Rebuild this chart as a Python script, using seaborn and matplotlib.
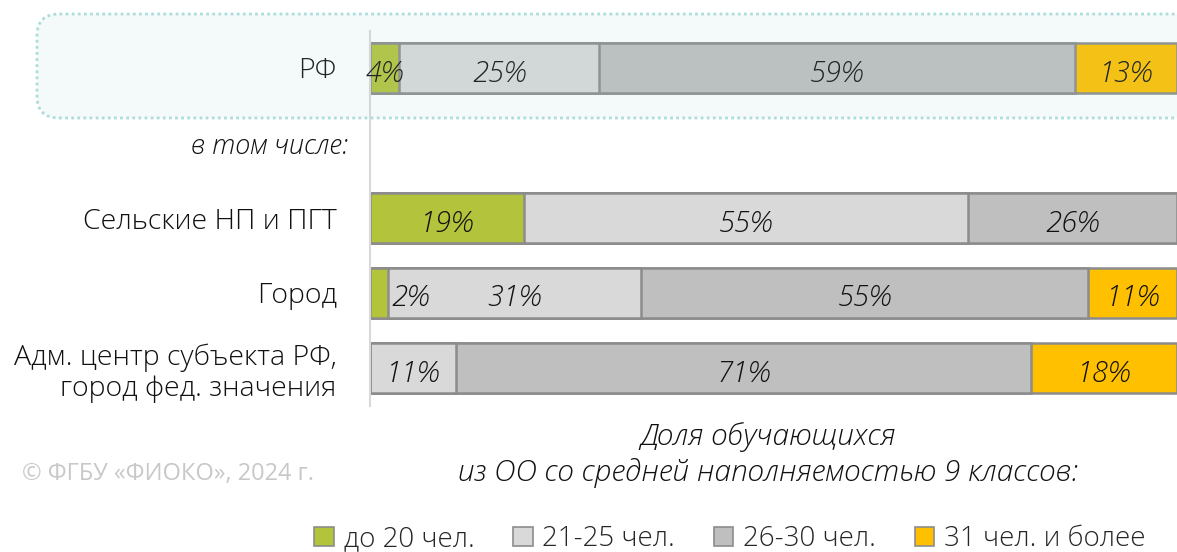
import matplotlib
matplotlib.use("Agg")
import matplotlib.pyplot as plt
import seaborn as sns
import pandas as pd
import numpy as np
from matplotlib.patches import FancyBboxPatch, Patch
from matplotlib.transforms import IdentityTransform

categories = ["РФ", "в том числе:", "Сельские НП и ПГТ", "Город",
              "Адм. центр субъекта РФ,\nгород фед. значения"]
groups = ["до 20 чел.", "21-25 чел.", "26-30 чел.", "31 чел. и более"]
rows = ["РФ", "Сельские НП и ПГТ", "Город", "Адм. центр субъекта РФ,\nгород фед. значения"]
v_upto20 = [3.6, 19.1, 2.2, 0.0]
v_21_25 = [24.8, 55.0, 31.4, 10.7]
v_26_30 = [59.0, 25.9, 55.4, 71.2]
v_31plus = [12.6, 0.0, 11.0, 18.1]
colors = ["#b3c33c", "#d9d9d9", "#bfbfbf", "#ffc000"]
xlabel_text = "Доля обучающихся\nиз ОО со средней наполняемостью 9 классов:"
copyright_text = "© ФГБУ «ФИОКО», 2024 г."

sns.set_style("white")
plt.rcParams["font.family"] = ["Open Sans", "DejaVu Sans"]

W, H = 1177, 552
fig = plt.figure(figsize=(W / 100, H / 100), dpi=100)
ax = fig.add_axes([370 / W, 1 - 405.5 / H, 807 / W, 375 / H])
ax.set_facecolor("none")

vals = np.array([v_upto20, v_21_25, v_26_30, v_31plus], dtype=float)
cums = np.cumsum(vals, axis=0)

# stacked bars: draw cumulative totals from the largest down
for i in reversed(range(len(groups))):
    df = pd.DataFrame({"cat": rows, "cum": cums[i]})
    sns.barplot(data=df, x="cum", y="cat", order=categories, orient="h",
                color=colors[i], saturation=1, edgecolor="#8c8c8c",
                linewidth=1.8, width=0.66, ax=ax, errorbar=None)

# value labels
ypos = {c: k for k, c in enumerate(categories)}
lab_kw = dict(va="center_baseline", fontsize=21, style="italic",
              color="#111111", fontweight="light")
for r, row in enumerate(rows):
    for i in range(len(groups)):
        v = vals[i, r]
        if v <= 0:
            continue
        end = cums[i, r]
        txt = f"{int(round(v))}%"
        if v < 3:
            ax.text(end + 0.5, ypos[row] + 0.03, txt, ha="left", **lab_kw)
        else:
            ax.text(end - v / 2, ypos[row] + 0.03, txt, ha="center", **lab_kw)

ax.set_xlim(0, 100)
ax.set_ylim(len(categories) - 0.5, -0.5)
ax.set_xticks([])
ax.set_xlabel("")
ax.set_ylabel("")
for s in ["top", "right", "bottom"]:
    ax.spines[s].set_visible(False)
ax.spines["left"].set_color("#d9d9d9")
ax.spines["left"].set_linewidth(1.5)
ax.tick_params(axis="y", length=0, pad=24, labelsize=20.5, labelcolor="#111111")
for lbl in ax.get_yticklabels():
    lbl.set_fontweight("light")
    lbl.set_linespacing(1.15)
    if lbl.get_text() == "в том числе:":
        lbl.set_style("italic")
        lbl.set_fontsize(19.5)
        lbl.set_x(11 / 807)

# highlighted box around РФ row (translucent overlay)
box = FancyBboxPatch((37, H - 118), 1300, 104,
                     boxstyle="round,pad=0,rounding_size=22",
                     transform=IdentityTransform(),
                     facecolor=(0.63, 0.84, 0.82, 0.11),
                     edgecolor="#addcdc", linestyle=(0, (1, 1.2)), linewidth=2,
                     zorder=10)
fig.patches.append(box)
box.set_figure(fig)

fig.text(768 / W, 1 - 455 / H, xlabel_text, ha="center", va="center",
         fontsize=21.5, style="italic", color="#111111", fontweight="light",
         linespacing=1.3)
fig.text(22 / W, 1 - 474 / H, copyright_text, ha="left", va="center",
         fontsize=17, color="#c8c8c8")

handles = [Patch(facecolor=c, edgecolor="#8c8c8c", linewidth=1.2) for c in colors]
fig.legend(handles, groups, loc="center", bbox_to_anchor=(730 / W, 1 - 539 / H),
           ncol=4, frameon=False, handlelength=0.7,
           handleheight=0.7, handletextpad=0.35, columnspacing=1.4,
           prop={"weight": "light", "size": 20})

fig.savefig("out.png", dpi=100)
